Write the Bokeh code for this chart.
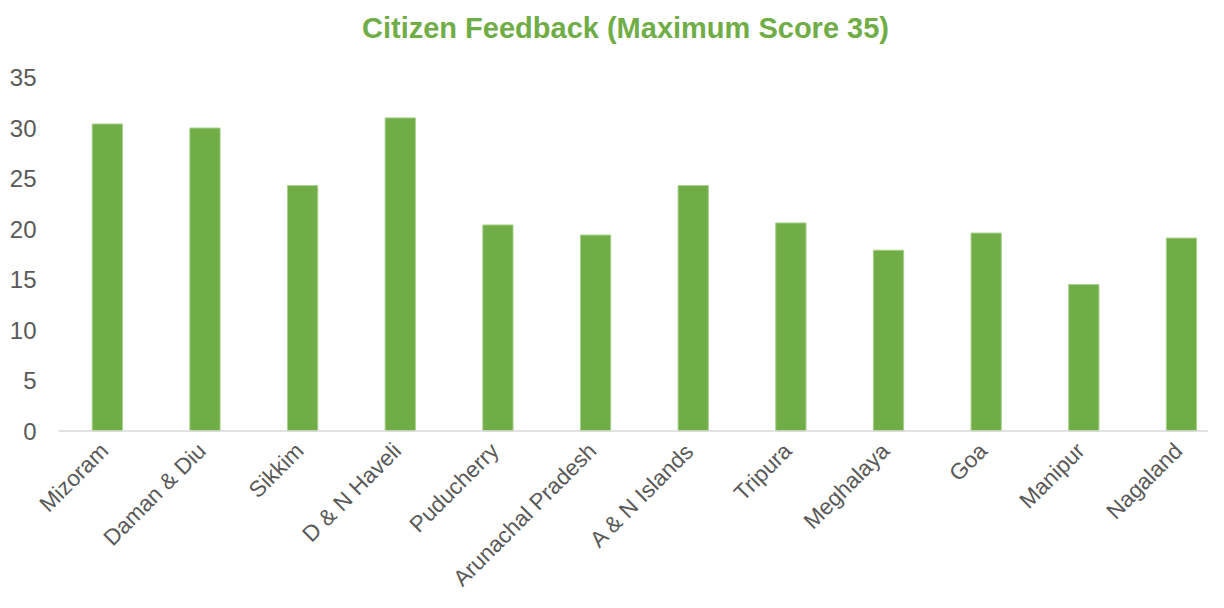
import math
from bokeh.plotting import figure
from bokeh.models import Range1d, Label, ColumnDataSource
from bokeh.embed import file_html
from bokeh.resources import INLINE

states = ["Mizoram", "Daman & Diu", "Sikkim", "D & N Haveli", "Puducherry",
          "Arunachal Pradesh", "A & N Islands", "Tripura", "Meghalaya", "Goa",
          "Manipur", "Nagaland"]
scores = [30.4, 30.0, 24.3, 31.0, 20.4, 19.4, 24.3, 20.6, 17.9, 19.6, 14.5, 19.1]
y_ticks = [0, 5, 10, 15, 20, 25, 30, 35]
title_text = "Citizen Feedback (Maximum Score 35)"

GREEN = "#70AD47"
TXT = "#595959"
FONT = {"value": "Liberation Sans"}

W, H = 1208, 592
plot_left_px = 58        # where the category axis starts
px_per_cat = 97.65
px_per_unit = 10.1
zero_px = 430.5          # canvas y of the value 0
x_start = -0.5 - plot_left_px / px_per_cat
x_end = x_start + W / px_per_cat
y_end = zero_px / px_per_unit
y_start = -(H - zero_px) / px_per_unit

idx = list(range(len(states)))
lab_dx = -3 / px_per_cat
lab_dy = -16 / px_per_unit
src = ColumnDataSource(dict(
    x=idx, top=scores, name=states,
    lx=[i + lab_dx for i in idx], ly=[lab_dy] * len(idx)))

ytick_x = x_start + 36 / px_per_cat
ysrc = ColumnDataSource(dict(y=y_ticks, t=[str(v) for v in y_ticks],
                             x=[ytick_x] * len(y_ticks)))

p = figure(width=W, height=H, output_backend="svg", toolbar_location=None,
           x_range=Range1d(x_start, x_end), y_range=Range1d(y_start, y_end),
           min_border=0)
p.outline_line_color = None
p.xgrid.visible = False
p.ygrid.visible = False
p.background_fill_color = "white"
p.border_fill_color = "white"
p.xaxis.visible = False
p.yaxis.visible = False

p.vbar(x="x", top="top", bottom=0, width=0.31, source=src, fill_color=GREEN,
       line_color="#A9D08E", line_width=1)

# category axis line, from the start of the first category to the right edge
p.segment(x0=[-0.5], y0=[0], x1=[x_end], y1=[0], line_color="#D9D9D9",
          line_width=1.5)

# category labels, rotated 45 degrees
p.text(x="lx", y="ly", text="name", source=src, angle=math.pi / 4,
       text_align="right", text_baseline="alphabetic",
       text_font=FONT, text_font_size="22.5px", text_color=TXT)

# value axis labels
p.text(x="x", y="y", text="t", source=ysrc, text_align="right",
       text_baseline="middle", text_font=FONT, text_font_size="24px",
       text_color=TXT)

# title
title_x = x_start + 625 / px_per_cat
title_y = (zero_px - 27) / px_per_unit
p.add_layout(Label(x=title_x, y=title_y, text=title_text, text_align="center",
                   text_baseline="middle", text_font="Liberation Sans",
                   text_font_style="bold", text_font_size="29px",
                   text_color=GREEN))

open("out.html", "w").write(file_html(p, INLINE))
